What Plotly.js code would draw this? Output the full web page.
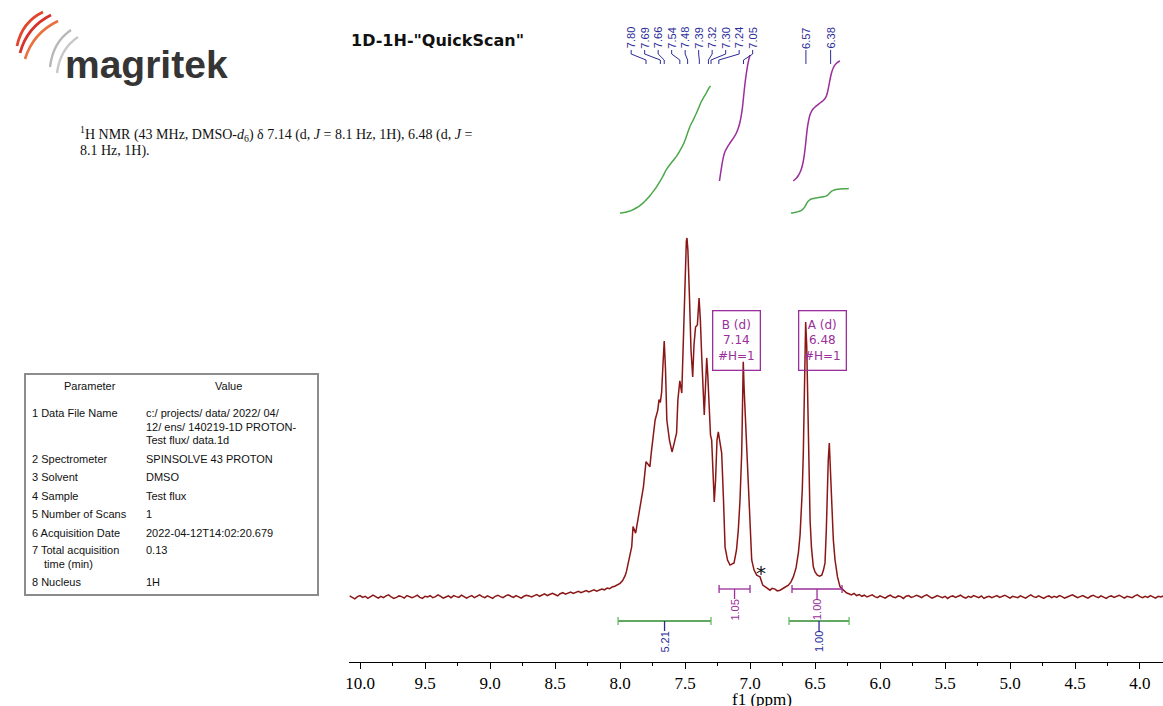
<!DOCTYPE html>
<html>
<head>
<meta charset="utf-8">
<script src="https://cdn.plot.ly/plotly-3.0.1.min.js"></script>
<style>
  html, body { margin: 0; padding: 0; background: #ffffff; }
  #chart { width: 1163px; height: 706px; }
</style>
</head>
<body>
<div id="chart"></div>
<script>
// ---------------- Spectrum data (1H, 43 MHz, DMSO) ----------------
// Low-field baseline, 10.08 .. 8.16 ppm
const baselineLowPpm = [10.08,10.06,10.04,10.02,10.00,9.98,9.96,9.94,9.92,9.90,9.88,9.86,9.84,9.82,9.80,9.78,9.76,9.74,9.72,9.70,
  9.68,9.66,9.64,9.62,9.60,9.58,9.56,9.54,9.52,9.50,9.48,9.46,9.44,9.42,9.40,9.38,9.36,9.34,9.32,9.30,
  9.28,9.26,9.24,9.22,9.20,9.18,9.16,9.14,9.12,9.10,9.08,9.06,9.04,9.02,9.00,8.98,8.96,8.94,8.92,8.90,
  8.88,8.86,8.84,8.82,8.80,8.78,8.76,8.74,8.72,8.70,8.68,8.66,8.64,8.62,8.60,8.58,8.56,8.54,8.52,8.50,
  8.48,8.46,8.44,8.42,8.40,8.38,8.36,8.34,8.32,8.30,8.28,8.26,8.24,8.22,8.20,8.18,8.16];
const baselineLowIntensity = [0.3,-0.2,-0.5,0.1,0.4,-0.1,0.2,-0.4,0.0,0.5,0.1,-0.3,0.2,-0.2,0.3,0.6,0.0,-0.4,-0.1,0.3,
  0.1,-0.3,0.4,0.2,-0.2,0.1,0.5,-0.1,-0.4,0.2,0.0,0.4,-0.2,0.1,0.6,0.2,-0.3,0.0,0.3,-0.2,
  0.4,0.1,-0.1,0.5,0.2,-0.3,0.1,0.4,-0.2,0.2,0.6,0.1,-0.2,0.3,0.0,-0.4,0.2,0.5,0.1,-0.2,
  0.3,0.6,0.2,-0.1,0.4,0.1,-0.3,0.2,0.5,0.3,0.0,0.4,0.7,0.2,0.5,0.9,0.4,0.6,1.0,0.7,
  0.3,0.9,1.2,0.8,1.1,1.4,1.0,1.3,1.6,1.2,1.5,1.8,1.4,1.7,2.0,1.6,1.9];

// Aromatic region, 8.14 .. 6.256 ppm
const aromaticPpm = [8.14,8.12,8.10,8.08,8.06,8.04,8.02,8.00,7.98,7.96,7.95,7.93,7.91,7.90,7.88,7.85,7.82,7.80,7.77,7.76,
  7.73,7.71,7.70,7.69,7.68,7.67,7.66,7.65,7.64,7.62,7.60,7.585,7.565,7.555,7.54,7.525,7.51,7.50,7.49,7.485,
  7.478,7.465,7.454,7.441,7.431,7.419,7.405,7.392,7.382,7.372,7.362,7.352,7.342,7.333,7.325,7.313,7.304,7.295,7.285,7.275,
  7.265,7.254,7.244,7.235,7.218,7.204,7.192,7.173,7.154,7.123,7.104,7.090,7.077,7.064,7.057,7.052,7.045,7.031,7.013,7.000,
  6.987,6.969,6.948,6.935,6.923,6.902,6.872,6.846,6.830,6.808,6.790,6.769,6.750,6.731,6.705,6.685,6.667,6.646,6.628,6.615,
  6.608,6.598,6.590,6.581,6.572,6.564,6.555,6.538,6.527,6.513,6.500,6.482,6.465,6.448,6.435,6.423,6.413,6.405,6.398,6.390,
  6.381,6.371,6.359,6.346,6.327,6.308,6.281,6.256];
const aromaticIntensity = [2.2,2.0,2.5,2.3,2.8,3.0,3.3,3.8,4.6,6.0,7.2,10.5,14.0,19.6,17.8,24.2,30.7,37.7,36.3,40.1,
  49.3,52.0,55.0,54.2,57.0,64.5,71.3,63.2,49.3,43.7,40.4,42.6,45.7,54.9,60.2,56.8,74.4,90.0,99.0,100.0,
  96.7,82.7,68.8,61.3,70.2,75.2,75.8,83.3,77.2,67.4,57.7,50.7,59.1,66.6,61.8,49.3,45.1,43.7,35.4,26.5,
  32.6,43.7,46.0,43.7,40.1,27.0,13.9,10.3,8.9,9.5,13.1,18.7,27.0,40.1,54.9,65.5,57.7,46.5,30.6,18.7,
  10.3,7.5,6.1,5.8,5.6,3.3,2.5,1.9,2.4,2.2,1.7,1.9,2.3,2.8,3.3,4.2,5.6,8.1,12.3,17.3,
  21.4,29.8,40.1,57.7,76.6,70.2,49.3,21.4,13.6,8.4,7.0,6.1,5.8,6.1,7.5,9.5,18.7,30.6,38.2,42.9,
  36.8,26.2,15.9,10.3,5.6,2.9,1.9,1.1];

// High-field baseline, 6.24 .. 3.82 ppm
const baselineHighPpm = [6.24,6.22,6.20,6.18,6.16,6.14,6.12,6.10,6.08,6.06,6.04,6.02,6.00,5.98,5.96,5.94,5.92,5.90,5.88,5.86,
  5.84,5.82,5.80,5.78,5.76,5.74,5.72,5.70,5.68,5.66,5.64,5.62,5.60,5.58,5.56,5.54,5.52,5.50,5.48,5.46,
  5.44,5.42,5.40,5.38,5.36,5.34,5.32,5.30,5.28,5.26,5.24,5.22,5.20,5.18,5.16,5.14,5.12,5.10,5.08,5.06,
  5.04,5.02,5.00,4.98,4.96,4.94,4.92,4.90,4.88,4.86,4.84,4.82,4.80,4.78,4.76,4.74,4.72,4.70,4.68,4.66,
  4.64,4.62,4.60,4.58,4.56,4.54,4.52,4.50,4.48,4.46,4.44,4.42,4.40,4.38,4.36,4.34,4.32,4.30,4.28,4.26,
  4.24,4.22,4.20,4.18,4.16,4.14,4.12,4.10,4.08,4.06,4.04,4.02,4.00,3.98,3.96,3.94,3.92,3.90,3.88,3.86,
  3.84,3.82];
const baselineHighIntensity = [0.9,0.6,1.0,0.4,0.7,0.2,0.5,0.0,0.3,0.6,0.1,-0.2,0.3,0.1,-0.3,0.2,0.5,0.0,-0.2,0.3,
  0.1,-0.4,0.2,0.4,-0.1,0.1,0.5,0.2,-0.2,0.3,0.6,0.1,-0.3,0.0,0.4,0.1,-0.2,0.2,-0.4,0.1,
  0.3,-0.1,0.2,0.5,0.0,-0.3,0.2,-0.1,0.4,0.1,-0.2,0.3,-0.4,0.0,0.2,-0.2,0.1,0.4,-0.1,0.2,
  0.5,0.1,-0.3,0.2,0.0,-0.2,0.3,0.1,-0.3,0.2,0.6,0.1,-0.1,0.3,0.0,-0.4,0.1,0.3,-0.2,0.2,
  -0.1,0.4,0.1,-0.3,0.0,0.3,0.6,0.2,-0.2,0.1,0.4,0.0,-0.3,0.2,0.5,0.1,-0.2,0.3,0.0,-0.4,
  0.1,0.3,-0.1,0.2,0.5,0.1,-0.3,0.2,0.0,-0.2,0.3,0.6,0.1,-0.2,0.2,-0.1,0.4,0.1,-0.3,0.2,
  0.0,0.3];

// Peak picking
const peakShifts = [7.80, 7.69, 7.66, 7.54, 7.48, 7.39, 7.32, 7.30, 7.24, 7.05, 6.57, 6.38];

// Integrals: regions (ppm) and values; 'range' = plain region integral, 'multiplet' = multiplet integral
const integralFrom  = [8.015, 6.700, 7.238, 6.677];
const integralTo    = [7.300, 6.238, 7.000, 6.292];
const integralValue = [5.21, 1.00, 1.05, 1.00];
const integralKind  = ['range', 'range', 'multiplet', 'multiplet'];

// Multiplet report
const multipletLabel = ['B', 'A'];
const multipletType  = ['d', 'd'];
const multipletShift = [7.14, 6.48];
const multipletH     = [1, 1];
const impurityShift  = 6.915;

// Axis ticks
const tickValues = [10.0, 9.5, 9.0, 8.5, 8.0, 7.5, 7.0, 6.5, 6.0, 5.5, 5.0, 4.5, 4.0];

// Parameter table
const paramNames = [['1 Data File Name'], ['2 Spectrometer'], ['3 Solvent'], ['4 Sample'],
  ['5 Number of Scans'], ['6 Acquisition Date'], ['7 Total acquisition', 'time (min)'], ['8 Nucleus']];
const paramValues = [['c:/ projects/ data/ 2022/ 04/', '12/ ens/ 140219-1D PROTON-', 'Test flux/ data.1d'],
  ['SPINSOLVE 43 PROTON'], ['DMSO'], ['Test flux'], ['1'], ['2022-04-12T14:02:20.679'], ['0.13'], ['1H']];

// ---------------- Page geometry ----------------
const W = 1163, H = 706;
const fx = p => p / W;          // page pixel -> paper x
const fy = p => 1 - p / H;      // page pixel -> paper y
const PLOT_LEFT = 349, PLOT_TOP = 20, PLOT_BOTTOM = 662;
const PPM_LEFT = 10.085, PPM_RIGHT = 3.823;
const PX_PER_PPM = (W - PLOT_LEFT) / (PPM_LEFT - PPM_RIGHT);

// vertical placement (page pixel of zero, pixels per unit) for each value axis
const SPEC_ZERO = 597, SPEC_SCALE = 3.59;
const RANGE_INT_ZERO = 213, RANGE_INT_SCALE = 24.4;
const MULT_INT_ZERO = 181, MULT_INT_SCALE = 120;
const rangeFor = (zero, scale) => [(zero - PLOT_BOTTOM) / scale, (zero - PLOT_TOP) / scale];

const SPEC_COLOR = '#8b1616';
const PURPLE = '#9a2e9a';
const GREEN = '#2e8a2e';
const GREEN_LIGHT = '#62bd62';
const GREEN_CURVE = '#4aa84a';
const NAVY = '#2b2b98';
const FONT_SANS = 'Liberation Sans, Arial, sans-serif';
const FONT_SERIF = 'Liberation Serif, Times New Roman, serif';

const specPpm = baselineLowPpm.concat(aromaticPpm, baselineHighPpm);
const specInt = baselineLowIntensity.concat(aromaticIntensity, baselineHighIntensity);

// ---------------- Traces ----------------
const traces = [{
  type: 'scatter', mode: 'lines', x: specPpm, y: specInt,
  line: { color: SPEC_COLOR, width: 1.5 }, hoverinfo: 'skip'
}];

// integral curves: running trapezoid sum over each region, scaled to the reported value
for (let i = 0; i < integralValue.length; i++) {
  const xs = [], ys = [];
  for (let k = 0; k < specPpm.length; k++) {
    if (specPpm[k] <= integralFrom[i] && specPpm[k] >= integralTo[i]) { xs.push(specPpm[k]); ys.push(specInt[k]); }
  }
  const cum = [0];
  for (let k = 1; k < xs.length; k++) {
    cum.push(cum[k - 1] + Math.abs(xs[k - 1] - xs[k]) * (ys[k - 1] + ys[k]) / 2);
  }
  const total = cum[cum.length - 1];
  const scaled = cum.map(v => v / total * integralValue[i]);
  const multiplet = integralKind[i] === 'multiplet';
  traces.push({
    type: 'scatter', mode: 'lines', x: xs, y: scaled, yaxis: multiplet ? 'y3' : 'y2',
    line: { color: multiplet ? PURPLE : GREEN_CURVE, width: 1.5, shape: 'spline' }, hoverinfo: 'skip'
  });
}

// ---------------- Shapes & annotations ----------------
const shapes = [];
const annotations = [];

// peak labels spread apart, centred on the peaks they belong to
function spreadLabels(peaks, gap) {
  let groups = peaks.map(p => ({ members: [p], center: p }));
  let changed = true;
  while (changed) {
    changed = false;
    for (let i = 0; i < groups.length - 1; i++) {
      const a = groups[i], b = groups[i + 1];
      const aLow = a.center - (a.members.length - 1) / 2 * gap;
      const bHigh = b.center + (b.members.length - 1) / 2 * gap;
      if (aLow - bHigh < gap - 1e-9) {
        const members = a.members.concat(b.members);
        const center = members.reduce((s, v) => s + v, 0) / members.length;
        groups.splice(i, 2, { members, center });
        changed = true;
        break;
      }
    }
  }
  const out = [];
  groups.forEach(g => g.members.forEach((m, k) => out.push(g.center + ((g.members.length - 1) / 2 - k) * gap)));
  return out;
}
const labelPos = spreadLabels(peakShifts, 13.5 / PX_PER_PPM);
peakShifts.forEach((p, i) => {
  annotations.push({
    x: labelPos[i], xref: 'x', y: fy(38), yref: 'paper', text: p.toFixed(2), textangle: -90,
    showarrow: false, xanchor: 'center', yanchor: 'middle',
    font: { family: FONT_SANS, size: 11, color: NAVY }
  });
  shapes.push({
    type: 'path', xref: 'x', yref: 'paper',
    path: `M ${labelPos[i]},${fy(50)} L ${labelPos[i]},${fy(54)} L ${p},${fy(60)} L ${p},${fy(64)}`,
    line: { color: NAVY, width: 1 }
  });
});

// integral bars under the spectrum
for (let i = 0; i < integralValue.length; i++) {
  const multiplet = integralKind[i] === 'multiplet';
  const yBar = multiplet ? 589 : 621;
  const barColor = multiplet ? PURPLE : GREEN;
  const capColor = multiplet ? PURPLE : GREEN_LIGHT;
  const tickColor = multiplet ? PURPLE : NAVY;
  const mid = (integralFrom[i] + integralTo[i]) / 2;
  shapes.push({ type: 'line', xref: 'x', yref: 'paper', x0: integralFrom[i], x1: integralTo[i], y0: fy(yBar), y1: fy(yBar), line: { color: barColor, width: 1.3 } });
  [integralFrom[i], integralTo[i]].forEach(e => shapes.push({ type: 'line', xref: 'x', yref: 'paper', x0: e, x1: e, y0: fy(yBar - 4), y1: fy(yBar + 4), line: { color: capColor, width: 1.3 } }));
  shapes.push({ type: 'line', xref: 'x', yref: 'paper', x0: mid, x1: mid, y0: fy(yBar), y1: fy(yBar + 10), line: { color: tickColor, width: 1.3 } });
  annotations.push({
    x: mid, xref: 'x', y: fy(yBar + 21), yref: 'paper', text: integralValue[i].toFixed(2), textangle: -90,
    showarrow: false, xanchor: 'center', yanchor: 'middle',
    font: { family: FONT_SANS, size: 11, color: multiplet ? PURPLE : NAVY }
  });
}

// multiplet boxes
multipletLabel.forEach((m, i) => {
  annotations.push({
    x: multipletShift[i], xref: 'x', xshift: 5, y: fy(341), yref: 'paper',
    text: `${m} (${multipletType[i]})<br>${multipletShift[i].toFixed(2)}<br>#H=${multipletH[i]}`,
    showarrow: false, xanchor: 'center', yanchor: 'middle', align: 'center',
    width: 44, height: 56, borderpad: 1, bordercolor: PURPLE, borderwidth: 1.3, bgcolor: 'rgba(255,255,255,0)',
    font: { family: 'DejaVu Sans, sans-serif', size: 12, color: PURPLE }
  });
});

// impurity marker
annotations.push({
  x: impurityShift, xref: 'x', y: fy(573), yref: 'paper', text: '*', showarrow: false,
  xanchor: 'center', yanchor: 'middle', font: { family: 'DejaVu Sans, sans-serif', size: 20, color: '#111' }
});

// axis title
annotations.push({
  x: fx(762), xref: 'paper', y: fy(699), yref: 'paper', text: 'f1 (ppm)', showarrow: false,
  xanchor: 'center', yanchor: 'middle', font: { family: FONT_SERIF, size: 17, color: '#000' }
});

// title
annotations.push({
  x: fx(349), xref: 'paper', y: fy(40), yref: 'paper', text: '<b>1D-1H-"QuickScan"</b>', showarrow: false,
  xanchor: 'left', yanchor: 'middle', font: { family: 'DejaVu Sans, sans-serif', size: 16, color: '#111' }
});

// NMR description
[
  '<sup>1</sup>H NMR (43 MHz, DMSO-<i>d</i><sub>6</sub>) δ 7.14 (d, <i>J</i> = 8.1 Hz, 1H), 6.48 (d, <i>J</i> =',
  '8.1 Hz, 1H).'
].forEach((t, i) => annotations.push({
  x: fx(78), xref: 'paper', y: fy(134 + i * 17), yref: 'paper', text: t, showarrow: false,
  xanchor: 'left', yanchor: 'middle', font: { family: FONT_SERIF, size: 14, color: '#111' }
}));

// logo
annotations.push({
  x: fx(63), xref: 'paper', y: fy(64), yref: 'paper', text: '<b>magritek</b>', showarrow: false,
  xanchor: 'left', yanchor: 'middle', font: { family: FONT_SANS, size: 39, color: '#353535' }
});
const P = (x, y) => `${fx(x)},${fy(y)}`;
[
  { d: `M ${P(17, 46)} Q ${P(22, 22)} ${P(43, 12)}`, c: '#e2452d', w: 2.8 },
  { d: `M ${P(20, 53)} Q ${P(27, 27)} ${P(51, 15)}`, c: '#d8302a', w: 2.8 },
  { d: `M ${P(25, 59)} Q ${P(33, 33)} ${P(58, 21)}`, c: '#ea7040', w: 2.6 },
  { d: `M ${P(50, 67)} Q ${P(53, 42)} ${P(71, 30)}`, c: '#b8b8b8', w: 2.4 },
  { d: `M ${P(57, 73)} Q ${P(60, 49)} ${P(78, 37)}`, c: '#c8c8c8', w: 2.4 }
].forEach(a => shapes.push({ type: 'path', xref: 'paper', yref: 'paper', path: a.d, line: { color: a.c, width: a.w } }));

// parameter table
shapes.push({ type: 'rect', xref: 'paper', yref: 'paper', x0: fx(25), x1: fx(318), y0: fy(374), y1: fy(595), line: { color: '#8c8c8c', width: 2 } });
const tableFont = { family: FONT_SANS, size: 11, color: '#111' };
annotations.push({ x: fx(90), y: fy(386), xref: 'paper', yref: 'paper', text: 'Parameter', showarrow: false, xanchor: 'center', yanchor: 'middle', font: tableFont });
annotations.push({ x: fx(228), y: fy(386), xref: 'paper', yref: 'paper', text: 'Value', showarrow: false, xanchor: 'center', yanchor: 'middle', font: tableFont });
const rowTop = [413, 459, 477, 496, 514, 533, 550, 582];
const LINE_STEP = 13.7;
paramNames.forEach((lines, r) => {
  lines.forEach((t, j) => annotations.push({
    x: fx(j === 0 ? 30 : 42), y: fy(rowTop[r] + j * LINE_STEP), xref: 'paper', yref: 'paper', text: t,
    showarrow: false, xanchor: 'left', yanchor: 'middle', font: tableFont
  }));
  paramValues[r].forEach((t, j) => annotations.push({
    x: fx(144), y: fy(rowTop[r] + j * LINE_STEP), xref: 'paper', yref: 'paper', text: t,
    showarrow: false, xanchor: 'left', yanchor: 'middle', font: tableFont
  }));
});

// ---------------- Layout ----------------
const layout = {
  width: W, height: H,
  margin: { l: 0, r: 0, t: 0, b: 0, pad: 0 },
  paper_bgcolor: '#ffffff', plot_bgcolor: 'rgba(0,0,0,0)',
  showlegend: false,
  xaxis: {
    domain: [fx(PLOT_LEFT), 1], range: [PPM_LEFT, PPM_RIGHT],
    tickmode: 'array', tickvals: tickValues, ticktext: tickValues.map(v => v.toFixed(1)),
    ticks: 'outside', ticklen: 6, tickwidth: 1, tickcolor: '#000',
    minor: { dtick: 0.25, tick0: 4, ticks: 'outside', ticklen: 3, tickcolor: '#000', showgrid: false },
    showline: true, linecolor: '#000', linewidth: 1, showgrid: false, zeroline: false,
    tickfont: { family: FONT_SERIF, size: 17, color: '#000' }, fixedrange: true
  },
  yaxis: { domain: [fy(PLOT_BOTTOM), fy(PLOT_TOP)], range: rangeFor(SPEC_ZERO, SPEC_SCALE), visible: false, fixedrange: true },
  yaxis2: { overlaying: 'y', range: rangeFor(RANGE_INT_ZERO, RANGE_INT_SCALE), visible: false, fixedrange: true },
  yaxis3: { overlaying: 'y', range: rangeFor(MULT_INT_ZERO, MULT_INT_SCALE), visible: false, fixedrange: true },
  shapes, annotations
};

Plotly.newPlot('chart', traces, layout, { displayModeBar: false, staticPlot: true });
</script>
</body>
</html>
